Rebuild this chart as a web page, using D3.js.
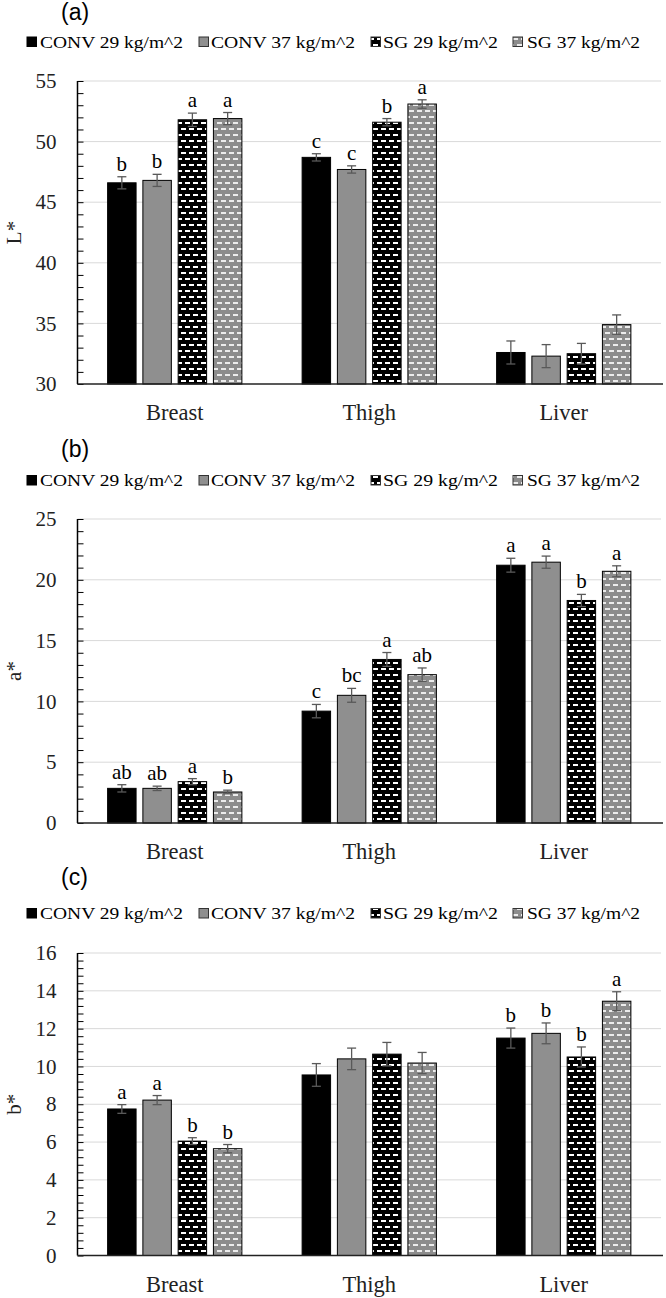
<!DOCTYPE html>
<html>
<head>
<meta charset="utf-8">
<script src="https://cdn.jsdelivr.net/npm/d3@7"></script>
<style>
  html, body { margin: 0; padding: 0; background: #fff; }
  svg { display: block; }
</style>
</head>
<body>
<svg id="chart" width="666" height="1298"></svg>
<script>
// ---------- DATA ----------
const categories = ["Breast", "Thigh", "Liver"];
const seriesNames = ["CONV 29 kg/m^2", "CONV 37 kg/m^2", "SG 29 kg/m^2", "SG 37 kg/m^2"];

// Panel (a) L*   rows = series (CONV29, CONV37, SG29, SG37), cols = categories
const L_values = [[46.6, 48.7, 32.6], [46.8, 47.7, 32.3], [51.8, 51.6, 32.5], [51.9, 53.1, 34.9]];
const L_errors = [[0.5, 0.3, 0.95], [0.5, 0.3, 0.95], [0.55, 0.3, 0.85], [0.5, 0.35, 0.8]];
const L_letters = [["b", "c", ""], ["b", "c", ""], ["a", "b", ""], ["a", "a", ""]];
const L_ticks = [30, 35, 40, 45, 50, 55];

// Panel (b) a*
const A_values = [[2.85, 9.2, 21.2], [2.85, 10.5, 21.45], [3.4, 13.45, 18.3], [2.55, 12.2, 20.7]];
const A_errors = [[0.3, 0.55, 0.57], [0.18, 0.57, 0.5], [0.25, 0.57, 0.5], [0.15, 0.55, 0.45]];
const A_letters = [["ab", "c", "a"], ["ab", "bc", "a"], ["a", "a", "b"], ["b", "ab", "a"]];
const A_ticks = [0, 5, 10, 15, 20, 25];

// Panel (c) b*
const B_values = [[7.75, 9.55, 11.5], [8.22, 10.4, 11.75], [6.05, 10.65, 10.5], [5.65, 10.18, 13.45]];
const B_errors = [[0.23, 0.6, 0.53], [0.24, 0.57, 0.55], [0.18, 0.62, 0.53], [0.22, 0.56, 0.5]];
const B_letters = [["a", "", "b"], ["a", "", "b"], ["b", "", "b"], ["b", "", "a"]];
const B_ticks = [0, 2, 4, 6, 8, 10, 12, 14, 16];

// ---------- LAYOUT ----------
const svg = d3.select("#chart");
const plotLeft = 77.5, plotRight = 661;
const serif = "Liberation Serif, Times New Roman, Tinos, DejaVu Serif, serif";
const sans = "Liberation Sans, Arial, Arimo, sans-serif";

const defs = svg.append("defs");
function makePattern(id, bg, fg) {
  const p = defs.append("pattern").attr("id", id)
    .attr("patternUnits", "userSpaceOnUse").attr("width", 8).attr("height", 12);
  p.append("rect").attr("width", 8).attr("height", 12).attr("fill", bg);
  p.append("rect").attr("x", 1).attr("y", 2).attr("width", 5).attr("height", 2).attr("fill", fg);
  p.append("rect").attr("x", 5).attr("y", 8).attr("width", 5).attr("height", 2).attr("fill", fg);
  p.append("rect").attr("x", -3).attr("y", 8).attr("width", 5).attr("height", 2).attr("fill", fg);
}
makePattern("pSG29", "#000000", "#ffffff");
makePattern("pSG37", "#8c8c8c", "#ececec");
const fills = ["#000000", "#8f8f8f", "url(#pSG29)", "url(#pSG37)"];

const legendSqX = [27, 199, 371, 513];
const legendTxtX = [40, 211, 383, 527];
const legendTxtW = [143, 144, 115, 113];

const panels = [
  { tag: "(a)", title: "L*", values: L_values, errors: L_errors, letters: L_letters, ticks: L_ticks,
    minor: 1, titleY: 20, legendY: 47.5, top: 81, bottom: 384 },
  { tag: "(b)", title: "a*", values: A_values, errors: A_errors, letters: A_letters, ticks: A_ticks,
    minor: 1, titleY: 457, legendY: 486, top: 519, bottom: 823 },
  { tag: "(c)", title: "b*", values: B_values, errors: B_errors, letters: B_letters, ticks: B_ticks,
    minor: 0.4, titleY: 885, legendY: 919, top: 953, bottom: 1255.5 }
];

const x0 = d3.scaleBand().domain(categories).range([plotLeft, plotRight]);
const x1 = d3.scaleBand().domain(d3.range(seriesNames.length))
  .range([0, x0.bandwidth()]).paddingInner(0.193).paddingOuter(0.854);

panels.forEach(P => {
  const g = svg.append("g");
  const dom = d3.extent(P.ticks);
  const y = d3.scaleLinear().domain(dom).range([P.bottom, P.top]);

  // panel tag
  g.append("text").attr("x", 61).attr("y", P.titleY)
    .style("font-family", sans).attr("font-size", 23).attr("fill", "#000").text(P.tag);

  // legend
  seriesNames.forEach((s, i) => {
    g.append("rect").attr("x", legendSqX[i]).attr("y", P.legendY - 10.5)
      .attr("width", 9.5).attr("height", 9.5).attr("fill", fills[i])
      .attr("stroke", i === 0 ? "#000" : "#333").attr("stroke-width", 1);
    g.append("text").attr("x", legendTxtX[i]).attr("y", P.legendY)
      .style("font-family", serif).attr("font-size", 17).attr("fill", "#000")
      .attr("textLength", legendTxtW[i]).attr("lengthAdjust", "spacingAndGlyphs")
      .text(s);
  });

  // gridlines
  g.append("g").selectAll("line").data(P.ticks.filter(t => t !== dom[0])).join("line")
    .attr("x1", plotLeft).attr("x2", plotRight)
    .attr("y1", d => y(d)).attr("y2", d => y(d))
    .attr("stroke", "#d9d9d9").attr("stroke-width", 1);

  // y tick labels
  const yAxis = g.append("g").attr("transform", `translate(${plotLeft},0)`)
    .call(d3.axisLeft(y).tickValues(P.ticks).tickSize(0).tickPadding(21).tickFormat(d3.format("d")));
  yAxis.select(".domain").remove();
  yAxis.attr("font-family", null);
  yAxis.selectAll("text").style("font-family", serif).attr("font-size", 21).attr("fill", "#222");

  // minor + major tick marks (inside)
  const n = Math.round((dom[1] - dom[0]) / P.minor);
  const minorTicks = d3.range(n + 1).map(k => dom[0] + k * P.minor);
  const mAxis = g.append("g").attr("transform", `translate(${plotLeft},0)`)
    .call(d3.axisRight(y).tickValues(minorTicks).tickSize(6).tickFormat(""));
  mAxis.select(".domain").remove();
  mAxis.selectAll("line").attr("stroke", "#000").attr("stroke-width", 1);

  // bars
  seriesNames.forEach((s, i) => {
    const bx = c => x0(c) + x1(i);
    g.append("g").selectAll("rect").data(categories).join("rect")
      .attr("x", c => bx(c)).attr("width", x1.bandwidth())
      .attr("y", (c, j) => y(P.values[i][j]))
      .attr("height", (c, j) => P.bottom - y(P.values[i][j]))
      .attr("fill", fills[i]).attr("stroke", "#000").attr("stroke-width", 1);

    // error bars
    const eg = g.append("g").attr("stroke", "#595959").attr("stroke-width", 1.3);
    categories.forEach((c, j) => {
      const cx = bx(c) + x1.bandwidth() / 2;
      const v = P.values[i][j], e = P.errors[i][j];
      eg.append("line").attr("x1", cx).attr("x2", cx).attr("y1", y(v + e)).attr("y2", y(v - e));
      eg.append("line").attr("x1", cx - 4.5).attr("x2", cx + 4.5).attr("y1", y(v + e)).attr("y2", y(v + e));
      eg.append("line").attr("x1", cx - 4.5).attr("x2", cx + 4.5).attr("y1", y(v - e)).attr("y2", y(v - e));
      const lt = P.letters[i][j];
      if (lt) {
        g.append("text").attr("x", cx).attr("y", y(v + e) - 6)
          .attr("text-anchor", "middle").style("font-family", serif).attr("font-size", 21)
          .attr("fill", "#000").text(lt);
      }
    });
  });

  // axis lines
  g.append("line").attr("x1", plotLeft).attr("x2", plotLeft).attr("y1", P.top).attr("y2", P.bottom)
    .attr("stroke", "#000").attr("stroke-width", 1.5);
  g.append("line").attr("x1", plotLeft).attr("x2", plotRight + 2).attr("y1", P.bottom).attr("y2", P.bottom)
    .attr("stroke", "#222").attr("stroke-width", 1.5);

  // category labels
  g.append("g").selectAll("text").data(categories).join("text")
    .attr("x", c => x0(c) + x0.bandwidth() / 2).attr("y", P.bottom + 36)
    .attr("text-anchor", "middle").style("font-family", serif).attr("font-size", 22.5)
    .attr("fill", "#222").text(c => c);

  // y-axis title
  g.append("text")
    .attr("transform", `translate(21,${(P.top + P.bottom) / 2}) rotate(-90)`)
    .attr("text-anchor", "middle").style("font-family", serif).attr("font-size", 21)
    .attr("fill", "#222").text(P.title);
});
</script>
</body>
</html>
